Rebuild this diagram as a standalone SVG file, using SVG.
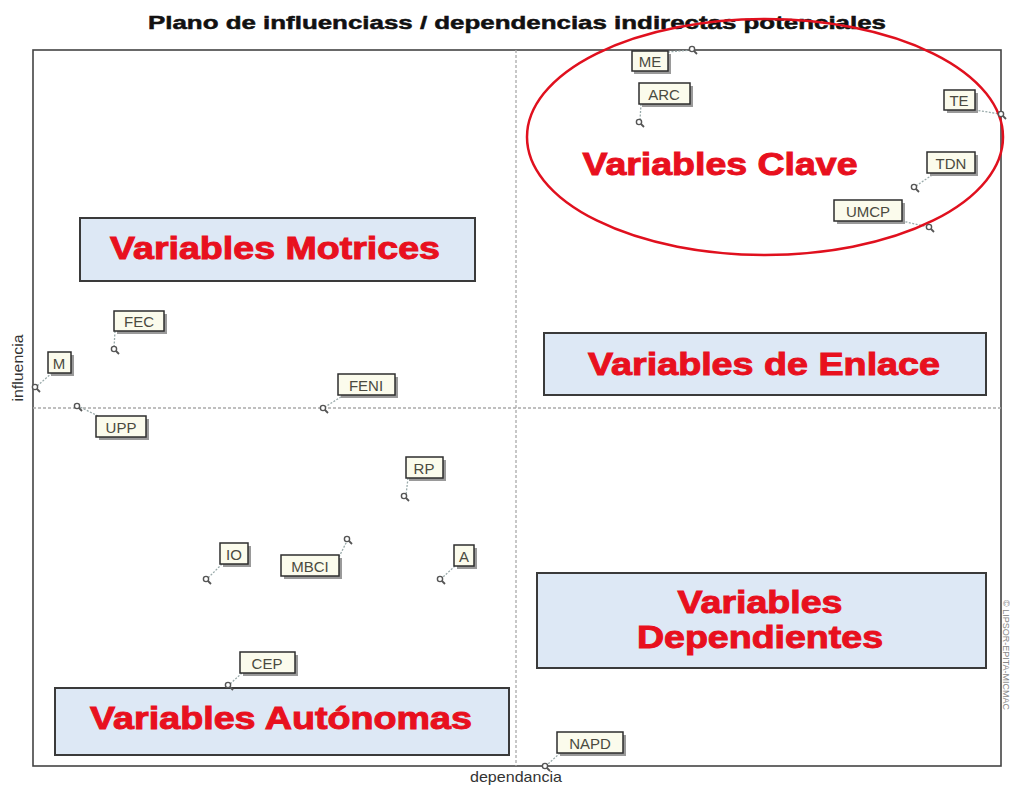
<svg xmlns="http://www.w3.org/2000/svg" width="1010" height="785" viewBox="0 0 1010 785">
<defs>
<style>
.title{font-family:"Liberation Sans",Arial,sans-serif;font-weight:bold;font-size:19px;fill:#111;stroke:#111;stroke-width:0.5;}
.axis{font-family:"Liberation Sans",Arial,sans-serif;font-size:15px;fill:#333;}
.zone{fill:#dde8f5;stroke:#3a3a3a;stroke-width:2;}
.zt{font-family:"Liberation Sans",Arial,sans-serif;font-weight:bold;font-size:32px;fill:#e8101e;stroke:#e8101e;stroke-width:1;text-anchor:middle;}
.lb rect.s{fill:#9a9a9a;}
.lb rect.b{fill:#fbfbec;stroke:#2e2e2e;stroke-width:1.5;}
.lb text{font-family:"Liberation Sans",Arial,sans-serif;font-size:15px;fill:#4a4a40;text-anchor:middle;}
.lead{stroke:#9aa;stroke-width:1.3;stroke-dasharray:2 1.5;fill:none;}
.grid{stroke:#aaa;stroke-width:1.3;stroke-dasharray:3 2;}
</style>
<g id="pt">
<circle cx="0" cy="0" r="2.6" fill="#fff" stroke="#555" stroke-width="1.4"/>
<line x1="2" y1="2" x2="5" y2="5" stroke="#555" stroke-width="1.8"/>
</g>
</defs>
<rect width="1010" height="785" fill="#fff"/>
<text class="title" x="517" y="29" text-anchor="middle" textLength="738" lengthAdjust="spacingAndGlyphs">Plano de influenciass / dependencias indirectas potenciales</text>
<g id="frame">
<rect x="33" y="50" width="968" height="716" fill="none" stroke="#444" stroke-width="1.6"/>
<line class="grid" x1="516" y1="50" x2="516" y2="766"/>
<line class="grid" x1="33" y1="408" x2="1001" y2="408"/>
</g>
<text class="axis" transform="translate(23,368) rotate(-90)" text-anchor="middle" textLength="67" lengthAdjust="spacingAndGlyphs">influencia</text>
<text class="axis" x="516" y="782" text-anchor="middle" textLength="92" lengthAdjust="spacingAndGlyphs">dependancia</text>
<text transform="translate(1003,600) rotate(90)" font-family="Liberation Sans,Arial,sans-serif" font-size="9" fill="#888">© LIPSOR-EPITA-MICMAC</text>
<g id="zone-motrices"><rect class="zone" x="80" y="218" width="395" height="63"/><text class="zt" x="275" y="259" textLength="330" lengthAdjust="spacingAndGlyphs">Variables Motrices</text></g>
<g id="zone-enlace"><rect class="zone" x="544" y="333" width="442" height="62"/><text class="zt" x="764" y="375" textLength="352" lengthAdjust="spacingAndGlyphs">Variables de Enlace</text></g>
<g id="zone-dependientes"><rect class="zone" x="537" y="573" width="449" height="95"/><text class="zt" x="760" y="613" textLength="165" lengthAdjust="spacingAndGlyphs">Variables</text><text class="zt" x="760" y="648" textLength="246" lengthAdjust="spacingAndGlyphs">Dependientes</text></g>
<g id="zone-autonomas"><rect class="zone" x="55" y="688" width="454" height="67"/><text class="zt" x="281" y="729" textLength="382" lengthAdjust="spacingAndGlyphs">Variables Autónomas</text></g>
<g id="connectors">
<line class="lead" x1="668" y1="52" x2="692" y2="50"/>
<line class="lead" x1="641" y1="104" x2="640" y2="120"/>
<line class="lead" x1="975" y1="110" x2="1000" y2="114"/>
<line class="lead" x1="935" y1="173" x2="916" y2="186"/>
<line class="lead" x1="902" y1="221" x2="928" y2="227"/>
<line class="lead" x1="115" y1="331" x2="114" y2="348"/>
<line class="lead" x1="52" y1="373" x2="37" y2="386"/>
<line class="lead" x1="344" y1="395" x2="325" y2="407"/>
<line class="lead" x1="98" y1="416" x2="80" y2="407"/>
<line class="lead" x1="408" y1="478" x2="406" y2="495"/>
<line class="lead" x1="222" y1="564" x2="208" y2="578"/>
<line class="lead" x1="339" y1="557" x2="347" y2="541"/>
<line class="lead" x1="455" y1="566" x2="442" y2="578"/>
<line class="lead" x1="242" y1="673" x2="230" y2="684"/>
<line class="lead" x1="560" y1="753" x2="547" y2="765"/>
</g>
<ellipse id="clave-ellipse" cx="765" cy="137" rx="238" ry="118" fill="none" stroke="#e0101e" stroke-width="2.5"/>
<text class="zt" x="720" y="175" textLength="275" lengthAdjust="spacingAndGlyphs">Variables Clave</text>
<g id="points">
<use href="#pt" x="692" y="49"/>
<use href="#pt" x="639" y="122"/>
<use href="#pt" x="1001" y="114"/>
<use href="#pt" x="914" y="187"/>
<use href="#pt" x="929" y="227"/>
<use href="#pt" x="114" y="349"/>
<use href="#pt" x="35" y="387"/>
<use href="#pt" x="323" y="408"/>
<use href="#pt" x="77" y="406"/>
<use href="#pt" x="404" y="496"/>
<use href="#pt" x="206" y="579"/>
<use href="#pt" x="347" y="539"/>
<use href="#pt" x="440" y="579"/>
<use href="#pt" x="228" y="685"/>
<use href="#pt" x="545" y="766"/>
</g>
<g id="node-ME" class="lb"><rect class="s" x="634" y="54" width="37" height="20"/><rect class="b" x="632" y="51" width="36" height="20"/><text x="650" y="67">ME</text></g>
<g id="node-ARC" class="lb"><rect class="s" x="642" y="86" width="51" height="21"/><rect class="b" x="639" y="83" width="51" height="21"/><text x="664" y="100">ARC</text></g>
<g id="node-TE" class="lb"><rect class="s" x="947" y="93" width="31" height="20"/><rect class="b" x="944" y="90" width="31" height="20"/><text x="959" y="106">TE</text></g>
<g id="node-TDN" class="lb"><rect class="s" x="930" y="155" width="48" height="21"/><rect class="b" x="927" y="152" width="48" height="21"/><text x="951" y="169">TDN</text></g>
<g id="node-UMCP" class="lb"><rect class="s" x="837" y="203" width="68" height="21"/><rect class="b" x="834" y="200" width="68" height="21"/><text x="868" y="217">UMCP</text></g>
<g id="node-FEC" class="lb"><rect class="s" x="117" y="314" width="50" height="20"/><rect class="b" x="114" y="311" width="50" height="20"/><text x="139" y="327">FEC</text></g>
<g id="node-M" class="lb"><rect class="s" x="51" y="355" width="23" height="21"/><rect class="b" x="48" y="352" width="23" height="21"/><text x="59" y="369">M</text></g>
<g id="node-FENI" class="lb"><rect class="s" x="341" y="377" width="57" height="21"/><rect class="b" x="338" y="374" width="57" height="21"/><text x="366" y="391">FENI</text></g>
<g id="node-UPP" class="lb"><rect class="s" x="99" y="419" width="50" height="21"/><rect class="b" x="96" y="416" width="50" height="21"/><text x="121" y="433">UPP</text></g>
<g id="node-RP" class="lb"><rect class="s" x="409" y="460" width="37" height="21"/><rect class="b" x="406" y="457" width="37" height="21"/><text x="424" y="474">RP</text></g>
<g id="node-IO" class="lb"><rect class="s" x="223" y="546" width="28" height="21"/><rect class="b" x="220" y="543" width="28" height="21"/><text x="234" y="560">IO</text></g>
<g id="node-MBCI" class="lb"><rect class="s" x="284" y="558" width="58" height="21"/><rect class="b" x="281" y="555" width="58" height="21"/><text x="310" y="572">MBCI</text></g>
<g id="node-A" class="lb"><rect class="s" x="457" y="548" width="20" height="21"/><rect class="b" x="454" y="545" width="20" height="21"/><text x="464" y="562">A</text></g>
<g id="node-CEP" class="lb"><rect class="s" x="243" y="655" width="55" height="21"/><rect class="b" x="240" y="652" width="55" height="21"/><text x="267" y="669">CEP</text></g>
<g id="node-NAPD" class="lb"><rect class="s" x="560" y="735" width="66" height="21"/><rect class="b" x="557" y="732" width="66" height="21"/><text x="590" y="749">NAPD</text></g>
</svg>
